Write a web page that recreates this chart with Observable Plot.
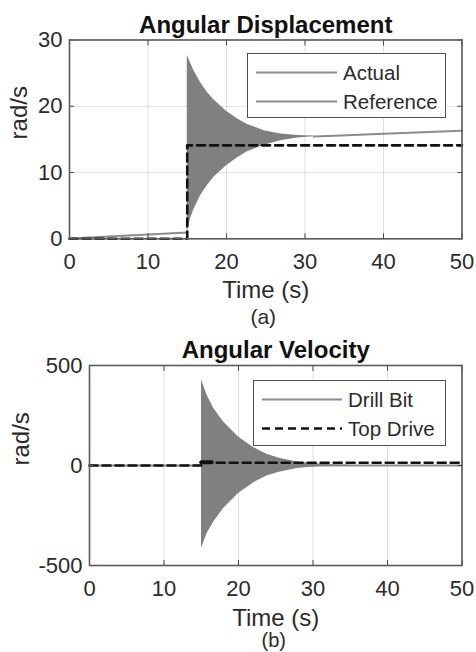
<!DOCTYPE html>
<html>
<head>
<meta charset="utf-8">
<script src="https://cdn.jsdelivr.net/npm/d3@7"></script>
<script src="https://cdn.jsdelivr.net/npm/@observablehq/plot@0.6"></script>
<style>
  html, body { margin: 0; padding: 0; background: #fff; }
  #wrap { position: relative; width: 476px; height: 652px; overflow: hidden; background: #fff;
          font-family: "Liberation Sans", Arial, sans-serif; color: #2b2b2b; }
  .chart { position: absolute; left: 0; }
  .legend { position: absolute; box-sizing: border-box; border: 1.5px solid #505050; background: #fff; }
  .legend svg { position: absolute; left: 0; top: 0; overflow: visible; }
</style>
</head>
<body>
<div id="wrap"></div>
<script>
// ---------- data ----------
const xTicks = [0, 10, 20, 30, 40, 50];
const dispTicks = [0, 10, 20, 30];
const velTicks = [-500, 0, 500];

// (a) Angular displacement
const actualPreT = [0, 15];
const actualPreV = [0.05, 0.95];
const actualEnvT  = [15, 15.4, 15.84, 16.69, 17.54, 18.39, 19.96, 21.36, 22.6, 24.8, 26.9, 29.0, 31.1];
const actualEnvHi = [27.7, 26.6, 25.4, 23.6, 22.1, 21.0, 19.3, 18.1, 17.3, 16.3, 15.8, 15.6, 15.5];
const actualEnvLo = [1.0, 3.0, 4.4, 6.5, 8.0, 9.3, 11.0, 12.2, 13.1, 14.1, 14.8, 15.2, 15.4];
const actualPostT = [31.1, 33, 40, 50];
const actualPostV = [15.45, 15.5, 15.85, 16.3];
const refT = [0, 15, 15, 50];
const refV = [0, 0, 14.1, 14.1];

// (b) Angular velocity
const bitT = [0, 50];
const bitV = [0, 0];
const velEnvT  = [15.03, 15.8, 16.7, 18.0, 20.0, 22.0, 23.8, 25.6, 27.9, 30.1, 32.3, 35];
const velEnvHi = [429, 350, 284, 217, 143, 90, 56, 35, 18, 10, 4, 1];
const velEnvLo = [-414, -339, -281, -215, -140, -87, -53, -32, -15, -7, -3, -1];
const topT = [0, 15, 15, 50];
const topV = [0, 0, 14.1, 14.1];
const topBurstT = [15, 16.4];
const topBurstV = [16, 16];

const dispLegend = ["Actual", "Reference"];
const velLegend = ["Drill Bit", "Top Drive"];

// ---------- helpers ----------
const FONT = "'Liberation Sans', Arial, Helvetica, sans-serif";
const zip2 = (a, b) => a.map((t, i) => ({t, v: b[i]}));
const env = (t, hi, lo) => t.map((d, i) => ({t: d, hi: hi[i], lo: lo[i]}));
const GRID = {stroke: "#262626", strokeOpacity: 0.14, strokeWidth: 1};
const AX = "#4a4a4a";
const fmt = d => String(d);

function frameMarks(yTicks, yLabelPad) {
  return [
    Plot.axisX(xTicks, {anchor: "bottom", tickSize: -5, tickPadding: 20, tickFormat: fmt, stroke: AX, fill: "#2b2b2b", fontSize: 22}),
    Plot.axisX(xTicks, {anchor: "top", tickSize: -5, tickFormat: () => "", stroke: AX}),
    Plot.axisY(yTicks, {anchor: "left", tickSize: -5, tickPadding: yLabelPad, tickFormat: fmt, stroke: AX, fill: "#2b2b2b", fontSize: 22}),
    Plot.axisY(yTicks, {anchor: "right", tickSize: -5, tickFormat: () => "", stroke: AX}),
    Plot.frame({stroke: "#5a5a5a", strokeWidth: 1.6})
  ];
}

// ---------- (a) ----------
const plotA = Plot.plot({
  width: 476, height: 330,
  marginTop: 39.5, marginBottom: 91.7, marginLeft: 69, marginRight: 14.5,
  style: {fontFamily: FONT, fontSize: "22px", color: "#2b2b2b", background: "transparent", overflow: "visible"},
  x: {domain: [0, 50], label: null},
  y: {domain: [0, 30], label: null},
  marks: [
    Plot.gridX(xTicks, GRID),
    Plot.gridY(dispTicks, GRID),
    Plot.lineY(zip2(actualPreT, actualPreV), {x: "t", y: "v", stroke: "#8c8c8c", strokeWidth: 2}),
    Plot.areaY(env(actualEnvT, actualEnvHi, actualEnvLo), {x: "t", y1: "lo", y2: "hi", fill: "#808080"}),
    Plot.lineY(zip2(actualPostT, actualPostV), {x: "t", y: "v", stroke: "#8c8c8c", strokeWidth: 2}),
    Plot.lineY(zip2(refT, refV), {x: "t", y: "v", stroke: "#111", strokeWidth: 2.6, strokeDasharray: "8,5"}),
    ...frameMarks(dispTicks, 12),
    Plot.text(["Angular Displacement"], {frameAnchor: "top", lineAnchor: "bottom", dy: -7, fontWeight: "bold", fontSize: 24, fill: "#111"}),
    Plot.text(["Time (s)"], {frameAnchor: "bottom", lineAnchor: "bottom", dy: 59.5, fontSize: 24, fill: "#2b2b2b"}),
    Plot.text(["(a)"], {frameAnchor: "bottom", lineAnchor: "bottom", dy: 85, dx: -2.5, fontSize: 21, fill: "#2b2b2b"}),
    Plot.text(["rad/s"], {frameAnchor: "left", rotate: -90, dx: -50, fontSize: 24, fill: "#2b2b2b"})
  ]
});

// ---------- (b) ----------
const plotB = Plot.plot({
  width: 476, height: 322,
  marginTop: 35, marginBottom: 87, marginLeft: 89, marginRight: 14.5,
  style: {fontFamily: FONT, fontSize: "22px", color: "#2b2b2b", background: "transparent", overflow: "visible"},
  x: {domain: [0, 50], label: null},
  y: {domain: [-500, 500], label: null},
  marks: [
    Plot.gridX(xTicks, GRID),
    Plot.gridY(velTicks, GRID),
    Plot.lineY(zip2(bitT, bitV), {x: "t", y: "v", stroke: "#8c8c8c", strokeWidth: 2}),
    Plot.areaY(env(velEnvT, velEnvHi, velEnvLo), {x: "t", y1: "lo", y2: "hi", fill: "#808080"}),
    Plot.lineY(zip2(topT, topV), {x: "t", y: "v", stroke: "#111", strokeWidth: 2.6, strokeDasharray: "8,5"}),
    Plot.lineY(zip2(topBurstT, topBurstV), {x: "t", y: "v", stroke: "#111", strokeWidth: 4}),
    ...frameMarks(velTicks, 12),
    Plot.text(["Angular Velocity"], {frameAnchor: "top", lineAnchor: "bottom", dy: -8, fontWeight: "bold", fontSize: 24, fill: "#111"}),
    Plot.text(["Time (s)"], {frameAnchor: "bottom", lineAnchor: "bottom", dy: 60, fontSize: 24, fill: "#2b2b2b"}),
    Plot.text(["(b)"], {frameAnchor: "bottom", lineAnchor: "bottom", dy: 81, dx: -2, fontSize: 20, fill: "#2b2b2b"}),
    Plot.text(["rad/s"], {frameAnchor: "left", rotate: -90, dx: -68, fontSize: 24, fill: "#2b2b2b"})
  ]
});

const wrap = document.getElementById("wrap");
plotA.classList.add("chart"); plotA.style.top = "0px";
plotB.classList.add("chart"); plotB.style.top = "330px";
wrap.appendChild(plotA);
wrap.appendChild(plotB);

// ---------- legends (HTML overlays) ----------
function legend(box, items) {
  const div = document.createElement("div");
  div.className = "legend";
  Object.assign(div.style, {left: box.left + "px", top: box.top + "px", width: box.w + "px", height: box.h + "px"});
  const ns = "http://www.w3.org/2000/svg";
  const svg = document.createElementNS(ns, "svg");
  svg.setAttribute("width", box.w); svg.setAttribute("height", box.h);
  items.forEach((it, i) => {
    const y = box.rows[i];
    const line = document.createElementNS(ns, "line");
    line.setAttribute("x1", box.x1); line.setAttribute("x2", box.x2);
    line.setAttribute("y1", y); line.setAttribute("y2", y);
    line.setAttribute("stroke", it.stroke); line.setAttribute("stroke-width", it.width);
    if (it.dash) line.setAttribute("stroke-dasharray", it.dash);
    svg.appendChild(line);
    const tx = document.createElementNS(ns, "text");
    tx.setAttribute("x", box.tx); tx.setAttribute("y", y);
    tx.setAttribute("dy", "0.36em");
    tx.setAttribute("font-family", FONT); tx.setAttribute("font-size", "20.5px");
    tx.setAttribute("fill", "#2b2b2b");
    tx.textContent = it.label;
    svg.appendChild(tx);
  });
  div.appendChild(svg);
  wrap.appendChild(div);
}
legend({left: 247.3, top: 53.3, w: 198.7, h: 64.5, rows: [18.5, 47.5], x1: 8, x2: 89, tx: 95},
  [{label: dispLegend[0], stroke: "#8c8c8c", width: 2}, {label: dispLegend[1], stroke: "#8c8c8c", width: 2}]);
legend({left: 253.3, top: 379.5, w: 192.7, h: 66, rows: [18.5, 47.5], x1: 8, x2: 88, tx: 94},
  [{label: velLegend[0], stroke: "#8c8c8c", width: 2}, {label: velLegend[1], stroke: "#111", width: 2.6, dash: "8,5"}]);
</script>
</body>
</html>
